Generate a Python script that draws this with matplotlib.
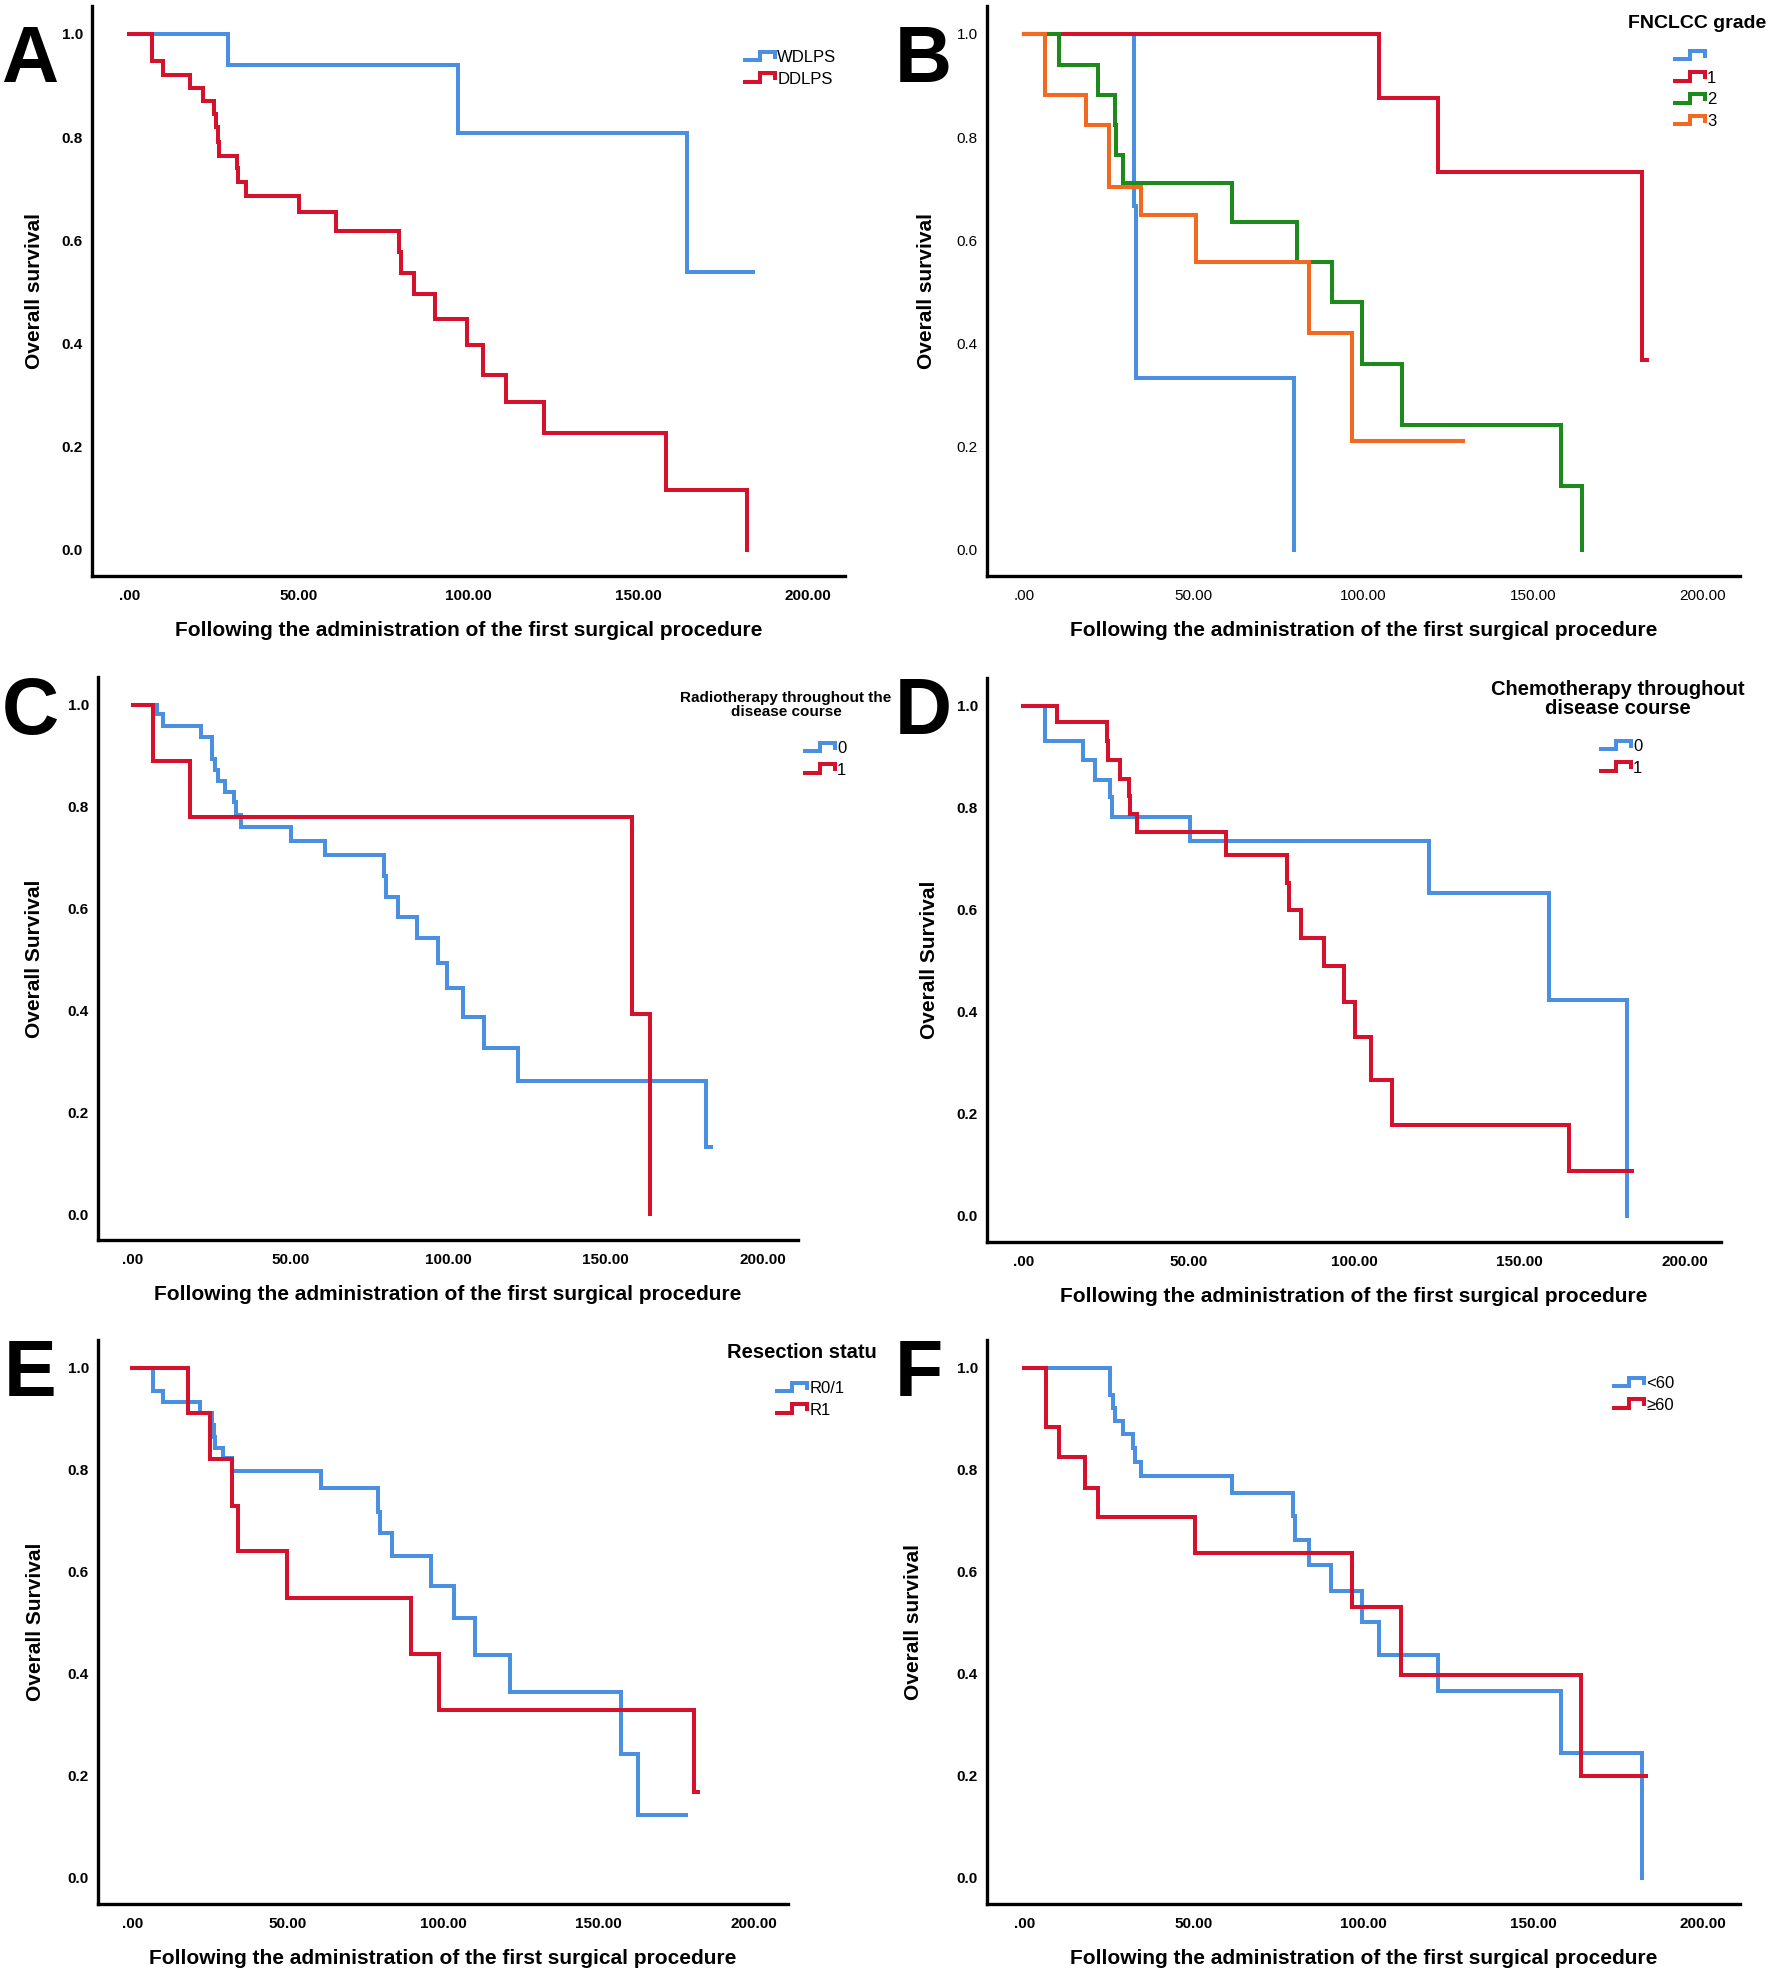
import matplotlib
matplotlib.use('Agg')
import matplotlib.pyplot as plt
from matplotlib.lines import Line2D
from matplotlib.legend_handler import HandlerBase
from matplotlib import font_manager

_names = {f.name for f in font_manager.fontManager.ttflist}
NARROW = 'Liberation Sans Narrow' if 'Liberation Sans Narrow' in _names else 'Liberation Sans'
SANS = 'Liberation Sans'

BLUE = '#4a8fe0'
RED = '#d5122e'
GREEN = '#1e8a1e'
ORANGE = '#f26a21'

# ---------------- data ----------------
x_ticks = [0, 50, 100, 150, 200]
x_ticklabels = ['.00', '50.00', '100.00', '150.00', '200.00']
y_ticks = [0.0, 0.2, 0.4, 0.6, 0.8, 1.0]
y_ticklabels = ['0.0', '0.2', '0.4', '0.6', '0.8', '1.0']
x_label = 'Following the administration of the first surgical procedure'

# Panel A: histology
a_wd_t = [0, 29.2, 96.9, 164.4, 183.8]
a_wd_s = [1.0, 0.940, 0.808, 0.538, 0.538]
a_dd_t = [0, 6.7, 9.9, 17.9, 21.6, 25.1, 25.6, 26.0, 26.4, 31.7, 32.1, 34.3, 50.1, 61.0,
          79.4, 80.2, 84.0, 90.2, 99.7, 104.4, 111.1, 122.3, 158.2, 182.1]
a_dd_s = [1.0, 0.948, 0.920, 0.896, 0.870, 0.845, 0.820, 0.790, 0.764, 0.740, 0.712, 0.686, 0.654, 0.618,
          0.578, 0.536, 0.496, 0.448, 0.396, 0.338, 0.286, 0.226, 0.116, 0.0]

# Panel B: FNCLCC grade
b_g0_t = [0, 32.3, 32.9, 79.5]
b_g0_s = [1.0, 0.667, 0.333, 0.0]
b_g1_t = [0, 104.6, 122.1, 182.0, 183.6]
b_g1_s = [1.0, 0.876, 0.732, 0.368, 0.368]
b_g2_t = [0, 10.2, 21.8, 26.6, 27.1, 29.2, 61.1, 80.5, 90.8, 99.7, 111.3, 158.2, 164.3]
b_g2_s = [1.0, 0.940, 0.882, 0.824, 0.766, 0.710, 0.636, 0.558, 0.480, 0.360, 0.242, 0.124, 0.0]
b_g3_t = [0, 6.2, 18.2, 25.1, 34.4, 50.5, 83.9, 96.7, 129.2]
b_g3_s = [1.0, 0.882, 0.824, 0.704, 0.648, 0.558, 0.420, 0.210, 0.210]

# Panel C: radiotherapy
c_r0_t = [0, 7.6, 9.7, 21.6, 25.3, 26.2, 26.9, 29.2, 32.2, 32.7, 34.2, 50.1, 61.1, 79.6, 80.2,
          84.1, 90.3, 96.8, 99.6, 104.6, 111.5, 122.1, 181.9, 183.5]
c_r0_s = [1.0, 0.981, 0.958, 0.937, 0.894, 0.872, 0.850, 0.828, 0.808, 0.783, 0.760, 0.733, 0.704, 0.663, 0.622,
          0.582, 0.541, 0.492, 0.444, 0.386, 0.325, 0.261, 0.132, 0.132]
c_r1_t = [0, 6.5, 18.2, 158.4, 164.1]
c_r1_s = [1.0, 0.890, 0.779, 0.392, 0.0]

# Panel D: chemotherapy
d_c0_t = [0, 6.5, 18.0, 21.6, 26.2, 26.7, 50.5, 122.6, 158.9, 182.5]
d_c0_s = [1.0, 0.930, 0.893, 0.855, 0.820, 0.781, 0.735, 0.632, 0.423, 0.0]
d_c1_t = [0, 10.3, 25.3, 25.6, 29.3, 31.8, 32.4, 34.4, 61.3, 79.6, 80.2, 84.1, 90.8, 96.9,
          100.2, 105.0, 111.5, 164.9, 184.2]
d_c1_s = [1.0, 0.967, 0.930, 0.894, 0.857, 0.822, 0.787, 0.752, 0.707, 0.653, 0.600, 0.545, 0.490, 0.419,
          0.351, 0.266, 0.178, 0.089, 0.089]

# Panel E: resection status
e_r01_t = [0, 6.6, 9.8, 21.7, 25.8, 26.3, 26.8, 29.2, 32.0, 60.9, 79.0, 79.6, 83.5, 96.1,
           103.6, 110.3, 121.4, 157.3, 162.8, 178.3]
e_r01_s = [1.0, 0.955, 0.933, 0.911, 0.888, 0.864, 0.842, 0.822, 0.798, 0.765, 0.717, 0.676, 0.630, 0.573,
           0.510, 0.437, 0.364, 0.243, 0.124, 0.124]
e_r1_t = [0, 18.1, 24.9, 32.0, 34.2, 49.8, 89.7, 98.8, 180.6, 181.9]
e_r1_s = [1.0, 0.911, 0.820, 0.729, 0.640, 0.549, 0.439, 0.330, 0.168, 0.168]

# Panel F: age
f_lt_t = [0, 25.2, 26.0, 26.8, 29.2, 32.0, 32.5, 34.3, 61.1, 79.2, 79.8, 84.0, 90.5, 99.7,
          104.6, 122.0, 158.3, 182.0]
f_lt_s = [1.0, 0.947, 0.921, 0.895, 0.869, 0.842, 0.814, 0.788, 0.755, 0.709, 0.662, 0.613, 0.563, 0.502,
          0.437, 0.366, 0.245, 0.0]
f_ge_t = [0, 6.4, 10.1, 18.0, 21.6, 50.3, 96.7, 111.1, 164.1, 183.3]
f_ge_s = [1.0, 0.884, 0.824, 0.765, 0.707, 0.637, 0.530, 0.398, 0.200, 0.200]

# ---------------- layout ----------------
W, H = 1778, 1977
fig = plt.figure(figsize=(W / 100, H / 100), dpi=100)
fig.patch.set_facecolor('white')


def px_axes(left, right, top, bottom):
    return fig.add_axes([left / W, 1 - bottom / H, (right - left) / W, (bottom - top) / H])


class StepHandler(HandlerBase):
    def create_artists(self, legend, orig_handle, xdescent, ydescent, width, height, fontsize, trans):
        x0 = -xdescent
        y0 = -ydescent
        xs = [x0, x0 + 0.55 * width, x0 + 0.55 * width, x0 + width, x0 + width]
        ys = [y0 + 0.15 * height, y0 + 0.15 * height, y0 + 0.9 * height, y0 + 0.9 * height, y0 + 0.3 * height]
        ln = Line2D(xs, ys, color=orig_handle.get_color(), lw=orig_handle.get_linewidth(),
                    solid_joinstyle='miter', solid_capstyle='butt')
        ln.set_transform(trans)
        return [ln]


LW = 2.9


def setup(ax, ylabel, ylab_x, bold_ticks=True):
    ax.set_xlim(-11, 211)
    ax.set_ylim(-0.051, 1.054)
    for s in ['top', 'right']:
        ax.spines[s].set_visible(False)
    for s in ['left', 'bottom']:
        ax.spines[s].set_linewidth(2.4)
        ax.spines[s].set_color('black')
    ax.set_xticks(x_ticks)
    ax.set_xticklabels(x_ticklabels)
    ax.set_yticks(y_ticks)
    ax.set_yticklabels(y_ticklabels)
    ax.tick_params(axis='both', length=0)
    ax.tick_params(axis='y', pad=6.5)
    ax.tick_params(axis='x', pad=9)
    w = 'bold' if bold_ticks else 'normal'
    for lab in ax.get_xticklabels() + ax.get_yticklabels():
        lab.set_fontfamily(NARROW)
        lab.set_fontweight(w)
        lab.set_fontsize(11)
    ax.set_xlabel(x_label, fontfamily=NARROW, fontweight='bold', fontsize=15)
    ax.set_ylabel(ylabel, fontfamily=NARROW, fontweight='bold', fontsize=15)
    bbox = ax.get_position()
    hpx = bbox.height * H
    ax.xaxis.set_label_coords(0.5, -54 / hpx)
    ax.xaxis.label.set_va('center')
    ax.yaxis.set_label_coords(ylab_x, 0.5)
    ax.yaxis.label.set_va('center')


def km(ax, t, s, color):
    ax.step(t, s, where='post', color=color, lw=LW, solid_joinstyle='miter')


def legend(labels, colors, x, y):
    handles = [Line2D([], [], color=c, lw=LW) for c in colors]
    fig.legend(handles, labels, handler_map={Line2D: StepHandler()}, loc='upper left',
               bbox_to_anchor=(x / W, 1 - y / H), bbox_transform=fig.transFigure,
               frameon=False, borderpad=0, borderaxespad=0, handlelength=1.9,
               handleheight=0.7, handletextpad=0.15, labelspacing=0.4,
               prop=dict(family=SANS, size=12))


def letter(ch, x, y):
    fig.text(x / W, 1 - y / H, ch, fontsize=57, fontweight='bold', fontfamily=NARROW,
             ha='left', va='top')


# Panel A
axA = px_axes(92, 845, 6, 576)
km(axA, a_wd_t, a_wd_s, BLUE)
km(axA, a_dd_t, a_dd_s, RED)
setup(axA, 'Overall survival', -0.076)
legend(['WDLPS', 'DDLPS'], [BLUE, RED], 743, 50)
letter('A', 1, 24)

# Panel B
axB = px_axes(987, 1740, 6, 576)
km(axB, b_g0_t, b_g0_s, BLUE)
km(axB, b_g1_t, b_g1_s, RED)
km(axB, b_g2_t, b_g2_s, GREEN)
km(axB, b_g3_t, b_g3_s, ORANGE)
setup(axB, 'Overall survival', -0.08, bold_ticks=False)
fig.text(1697 / W, 1 - 23 / H, 'FNCLCC grade', fontsize=14, fontweight='bold', fontfamily=NARROW,
         ha='center', va='center')
legend(['', '1', '2', '3'], [BLUE, RED, GREEN, ORANGE], 1673, 49)
letter('B', 895, 24)

# Panel C
axC = px_axes(98, 798, 677, 1240)
km(axC, c_r0_t, c_r0_s, BLUE)
km(axC, c_r1_t, c_r1_s, RED)
setup(axC, 'Overall Survival', -0.09)
fig.text(786 / W, 1 - 705 / H, 'Radiotherapy throughout the\ndisease course', fontsize=11,
         fontweight='bold', fontfamily=NARROW, ha='center', va='center', linespacing=0.95)
legend(['0', '1'], [BLUE, RED], 803, 741)
letter('C', 2, 676)

# Panel D
axD = px_axes(987, 1721, 678, 1242)
km(axD, d_c0_t, d_c0_s, BLUE)
km(axD, d_c1_t, d_c1_s, RED)
setup(axD, 'Overall Survival', -0.079)
fig.text(1618 / W, 1 - 699 / H, 'Chemotherapy throughout\ndisease course', fontsize=14.5,
         fontweight='bold', fontfamily=NARROW, ha='center', va='center', linespacing=1.0)
legend(['0', '1'], [BLUE, RED], 1599, 739)
letter('D', 895, 676)

# Panel E
axE = px_axes(98, 788, 1340, 1904)
km(axE, e_r01_t, e_r01_s, BLUE)
km(axE, e_r1_t, e_r1_s, RED)
setup(axE, 'Overall Survival', -0.091)
fig.text(802 / W, 1 - 1353 / H, 'Resection statu', fontsize=14.5, fontweight='bold',
         fontfamily=NARROW, ha='center', va='center')
legend(['R0/1', 'R1'], [BLUE, RED], 775, 1381)
letter('E', 4, 1338)

# Panel F
axF = px_axes(987, 1740, 1340, 1904)
km(axF, f_lt_t, f_lt_s, BLUE)
km(axF, f_ge_t, f_ge_s, RED)
setup(axF, 'Overall survival', -0.097)
legend(['<60', '≥60'], [BLUE, RED], 1612, 1376)
letter('F', 895, 1338)

fig.savefig('out.png', dpi=100, facecolor='white')
